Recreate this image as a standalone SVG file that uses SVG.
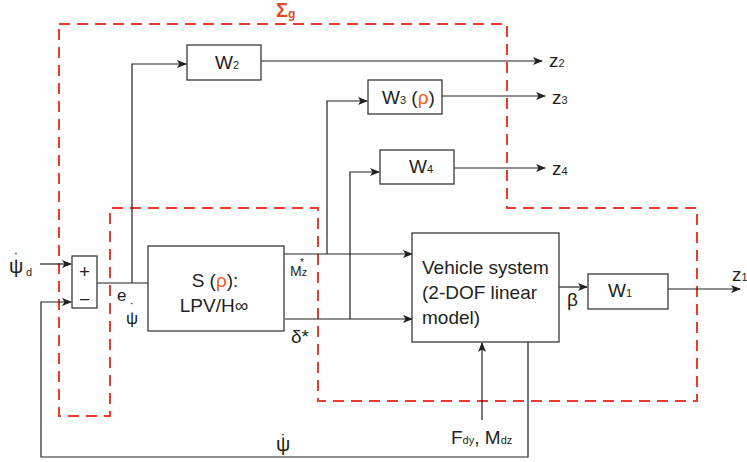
<svg xmlns="http://www.w3.org/2000/svg" width="747" height="462" viewBox="0 0 747 462">
<defs>
<marker id="ah" markerWidth="10" markerHeight="8" refX="9" refY="4" orient="auto" markerUnits="userSpaceOnUse">
<path d="M0,0 L10,4 L0,8 L2.5,4 Z" fill="#231f20"/>
</marker>
</defs>
<style>
.box{fill:#fff;stroke:#3a3a3a;stroke-width:1.3}
.ln{fill:none;stroke:#231f20;stroke-width:1.2}
.arr{fill:none;stroke:#231f20;stroke-width:1.2;marker-end:url(#ah)}
.dash{fill:none;stroke:#ec3b2d;stroke-width:2;stroke-dasharray:11 7}
text{font-family:"Liberation Sans","DejaVu Sans",sans-serif;fill:#231f20}
.t{font-size:19px}
.s{font-size:11px}
.r{fill:#f15a24}
</style>
<rect width="747" height="462" fill="#fff"/>
<g id="sigma-boundary">
<path class="dash" d="M59,24 L507,24 L507,208 L697,208 L697,401 L318,401 L318,208 L110,208 L110,416 L59,416 Z"/>
<text x="276" y="17" style="font-size:20px;font-weight:bold;fill:#de4b2c">Σ<tspan style="font-size:12px" dy="1">g</tspan></text>
</g>
<g id="connectors">
<path class="arr" d="M40,264 L71,264"/>
<path class="arr" d="M528,342 L528,457 L41,457 L41,302 L71,302"/>
<path class="ln" d="M97,283 L148,283"/>
<path class="arr" d="M132,283 L132,64 L186,64"/>
<path class="arr" d="M261,61 L542,61"/>
<path class="arr" d="M284,254 L412,254"/>
<path class="arr" d="M327,254 L327,101 L367,101"/>
<path class="arr" d="M442,96 L545,96"/>
<path class="arr" d="M285,319 L412,319"/>
<path class="arr" d="M350,319 L350,172 L379,172"/>
<path class="arr" d="M454,168 L545,168"/>
<path class="arr" d="M559,287 L587,287"/>
<path class="arr" d="M668,289 L740,289"/>
<path class="arr" d="M482,420 L482,343"/>
</g>
<g id="sum">
<rect class="box" x="72" y="256" width="25" height="52"/>
<text x="84.5" y="278" class="t" text-anchor="middle">+</text>
<text x="84.5" y="306" class="t" text-anchor="middle">−</text>
</g>
<g id="controller">
<rect class="box" x="148" y="246" width="136" height="85"/>
<text x="215" y="287" class="t" text-anchor="middle">S (<tspan class="r">ρ</tspan>):</text>
<text x="214" y="312" class="t" text-anchor="middle">LPV/H∞</text>
</g>
<g id="w2">
<rect class="box" x="187" y="45" width="74" height="35"/>
<text x="215" y="69" class="t">W<tspan class="s">2</tspan></text>
</g>
<g id="w3">
<rect class="box" x="368" y="80" width="74" height="34"/>
<text x="382" y="104" class="t">W<tspan class="s">3</tspan> (<tspan class="r">ρ</tspan>)</text>
</g>
<g id="w4">
<rect class="box" x="380" y="150" width="74" height="34"/>
<text x="409" y="173" class="t">W<tspan class="s">4</tspan></text>
</g>
<g id="vehicle">
<rect class="box" x="412" y="233" width="147" height="109"/>
<text x="422" y="274" class="t">Vehicle system</text>
<text x="422" y="299" class="t">(2-DOF linear</text>
<text x="422" y="324" class="t">model)</text>
</g>
<g id="w1">
<rect class="box" x="588" y="274" width="80" height="35"/>
<text x="608" y="297" class="t">W<tspan class="s">1</tspan></text>
</g>
<g id="labels">
<text x="9" y="273" style="font-size:20px">ψ<tspan x="14" y="265" style="font-size:16px">˙</tspan><tspan x="26" y="276" class="s">d</tspan></text>
<text x="117" y="301" style="font-size:17px">e<tspan x="126" y="324">ψ</tspan><tspan x="130" y="314" style="font-size:14px">˙</tspan></text>
<text x="290" y="276" style="font-size:14px">M<tspan style="font-size:11px">z</tspan><tspan x="300" y="266" style="font-size:10px">*</tspan></text>
<text x="291" y="343" class="t">δ*</text>
<text x="567" y="306" class="t">β</text>
<text x="549" y="67" class="t">z<tspan class="s">2</tspan></text>
<text x="552" y="104" class="t">z<tspan class="s">3</tspan></text>
<text x="552" y="175" class="t">z<tspan class="s">4</tspan></text>
<text x="732" y="281" class="t">z<tspan class="s">1</tspan></text>
<text x="451" y="444" class="t">F<tspan class="s">dy</tspan>, M<tspan class="s">dz</tspan></text>
<text x="276" y="451" style="font-size:20px">ψ<tspan x="281" y="446" style="font-size:16px">˙</tspan></text>
</g>
</svg>
